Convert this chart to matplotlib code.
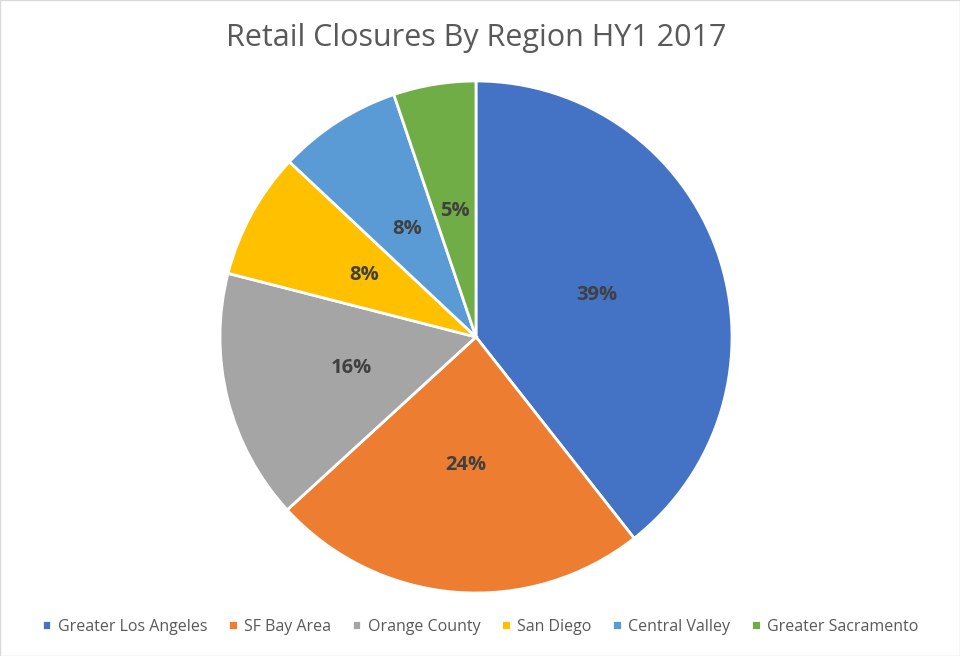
import matplotlib
matplotlib.use("Agg")
import matplotlib.pyplot as plt
from matplotlib.patches import Rectangle

regions = ["Greater Los Angeles", "SF Bay Area", "Orange County", "San Diego",
           "Central Valley", "Greater Sacramento"]
shares = [39.4, 23.8, 15.8, 8.0, 7.8, 5.2]
colors = ["#4472C4", "#ED7D31", "#A5A5A5", "#FFC000", "#5B9BD5", "#70AD47"]

plt.rcParams["font.family"] = ["Open Sans", "DejaVu Sans"]

W, H = 960, 656
fig = plt.figure(figsize=(W / 100, H / 100), dpi=100)
fig.patch.set_facecolor("white")

# pie: centre ~ (476, 337) px, radius ~ 256 px
cx, cy, r = 476, 337, 256
ax = fig.add_axes([(cx - r) / W, (H - cy - r) / H, 2 * r / W, 2 * r / H])
wedges, _, autotexts = ax.pie(
    shares, colors=colors, startangle=90, counterclock=False, radius=1.0,
    autopct="%.0f%%", pctdistance=0.5,
    wedgeprops=dict(edgecolor="white", linewidth=2),
    textprops=dict(color="#404040", fontsize=14.5, fontweight="bold"),
)
ax.set_xlim(-1, 1)
ax.set_ylim(-1, 1)
ax.set_aspect("equal")
ax.axis("off")

fig.text(cx / W, 1 - 38 / H, "Retail Closures By Region HY1 2017",
         ha="center", va="center", fontsize=22, color="#595959")

fig.legend(wedges, regions, loc="center", bbox_to_anchor=(0.5, 1 - 627 / H),
           ncol=6, frameon=False, fontsize=11.5, labelcolor="#595959",
           handlelength=0.6, handleheight=0.6, handletextpad=0.4, columnspacing=1.3)

fig.add_artist(Rectangle((0, 0), 1, 1, transform=fig.transFigure, fill=False,
                         edgecolor="#D9D9D9", linewidth=1))

fig.savefig("out.png", dpi=100)
